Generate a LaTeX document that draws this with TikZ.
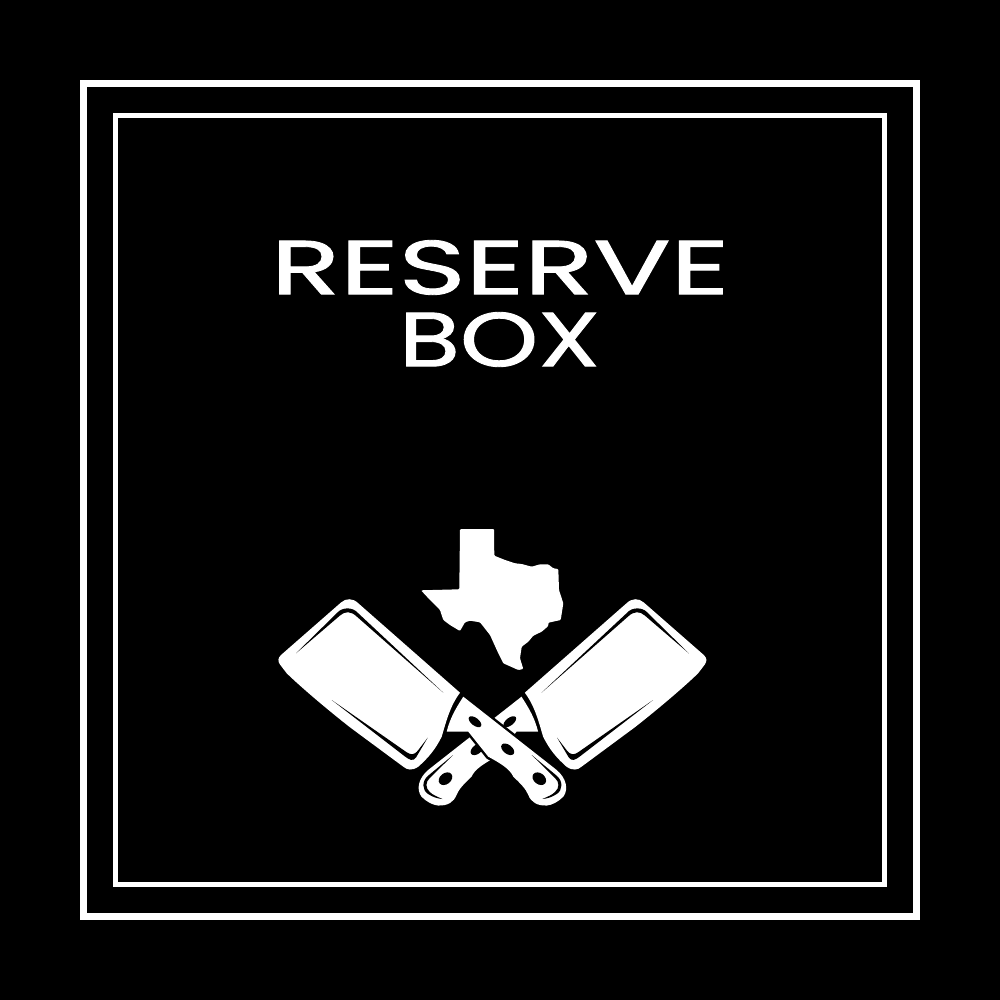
\documentclass[tikz,border=0pt]{standalone}
\usepackage{graphicx}
\usepackage{fontspec}
\newfontfamily\titlefont{Poppins}[FakeBold=1.1]
\tikzset{
	framea/.style={draw=white, line width=7.5pt},
	frameb/.style={draw=white, line width=4.5pt},
	titletext/.style={text=white, inner sep=0pt, font=\titlefont},
	slit/.style={fill=black},
	cutout/.style={fill=white, preaction={draw=black, line width=5pt}}
}
\newcommand{\cleaverdraw}{
	\fill[white] (281,655) -- (341,602.5) .. controls (346,598) and (353,598) .. (358.3,603.3)
		-- (460,692.7) .. controls (450,706) and (446,722) .. (441.7,736.7)
		.. controls (435,750) and (428,758) .. (418.3,766.7) .. controls (412,771) and (407,770) .. (403.3,766.7)
		-- (350,727.3) .. controls (328,710) and (303,689) .. (286.7,673.3) -- (280,664.5)
		.. controls (277.5,661) and (278,658) .. (281,655) -- cycle;
	\fill[slit] (296,653.3) -- (338.3,611.7) .. controls (342,608) and (352,606) .. (358.3,613.3) -- (443.3,692.7)
		-- (356.7,616.5) .. controls (351,611) and (345,611) .. (340,615.5) -- cycle;
	\fill[slit] (331.7,700) -- (405,756.5) .. controls (409,759.5) and (413,762) .. (416,757.5) -- (427.7,737.7)
		-- (418.3,750) .. controls (414,755.5) and (411,755) .. (406.7,752.3) -- cycle;
	\path[cutout] (463.3,696.7) -- (556.7,770) .. controls (566,778) and (569,789) .. (563.3,796.7)
		.. controls (558,802) and (552,805) .. (547,805.5) .. controls (537,806) and (531,802) .. (528.3,795)
		.. controls (526,789) and (520,783) .. (513.3,776.7) .. controls (510,769) and (500,763) .. (488.3,756.7)
		-- (475,740) -- (468.3,731.7) -- (446.7,731.7) .. controls (450,718) and (456,708) .. (463.3,696.7) -- cycle;
	\fill[slit, rotate around={-38:(475,721.7)}] (475,721.7) ellipse (7.5 and 3.8);
	\fill[slit, rotate around={-38:(507.7,749.3)}] (507.7,749.3) ellipse (7.5 and 4.5);
	\fill[slit, rotate around={-38:(539.3,778.7)}] (539.3,778.7) ellipse (7.5 and 5.5);
	\fill[slit] (531.7,755) -- (556.7,775.7) .. controls (563,781) and (563,790) .. (556.7,794) .. controls (552,797) and (548,798.5) .. (542.3,799)
		.. controls (548,796.5) and (552,795) .. (555,792) .. controls (559.5,788) and (559.5,782) .. (555,778) -- cycle;
}
\begin{document}
\begin{tikzpicture}[x=1pt, y=-1pt]
	\fill[black] (0,0) rectangle (1000,1000);
	\draw[framea] (83.5,83.5) rectangle (916.5,916.5);
	\draw[frameb] (115.5,115.5) rectangle (884.5,884.5);
	\node[titletext] (reserveline) at (500,267.5) {\resizebox{458pt}{54pt}{RESERVE}};
	\node[titletext] (boxline) at (499.5,339.5) {\resizebox{201pt}{54pt}{BOX}};
	\fill[white, rounded corners=1pt] (460,529) -- (494,529) -- (494.3,555.7) -- (498.3,557.3) -- (505,560) -- (515,563.3)
		-- (521.7,564) -- (531.7,566.7) -- (540,564.3) -- (548.3,564.3) -- (553.3,568.3) -- (558.3,569) -- (559,590)
		-- (563.3,603.3) -- (560.7,620) -- (548.3,622.7) -- (548.3,626) -- (541.7,631.7) -- (533.3,635.7) -- (528.3,641.7)
		-- (521.7,646.7) -- (520,658.3) -- (523.3,669) -- (518.3,670) -- (503.3,663.3) -- (498.3,653.3) -- (490,635)
		-- (480,622.3) -- (470,620.7) -- (465,622.3) -- (460,631) -- (450,625) -- (443.3,620) -- (440,610) -- (430,600)
		-- (421,590.3) -- (459.3,589.3) -- cycle;
	\begin{scope}[shift={(984.8,0)}, xscale=-1]
		\cleaverdraw
	\end{scope}
	\cleaverdraw
\end{tikzpicture}
\end{document}
